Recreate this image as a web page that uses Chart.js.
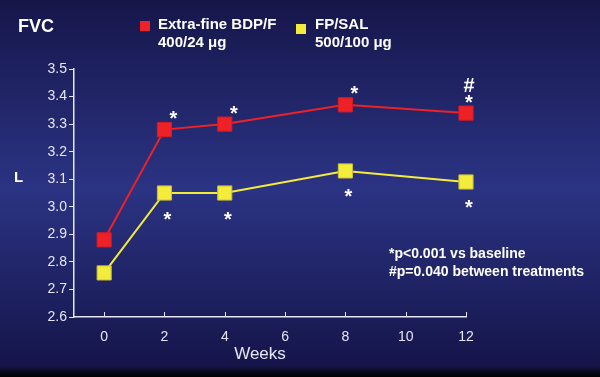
<!DOCTYPE html>
<html>
<head>
<meta charset="utf-8">
<script src="https://cdn.jsdelivr.net/npm/chart.js@4.4.0/dist/chart.umd.min.js"></script>
<style>
  html, body { margin: 0; padding: 0; background: #000; }
  #wrap { width: 600px; height: 377px; }
</style>
</head>
<body>
<div id="wrap"><canvas id="fvcChart"></canvas></div>
<script>
// data
var weeks = [0, 2, 4, 8, 12];
var bdpValues = [2.88, 3.28, 3.30, 3.37, 3.34];
var fpValues = [2.76, 3.05, 3.05, 3.13, 3.09];
var bdpMarks = ['', '*', '*', '*', '*'];
var bdpHash = ['', '', '', '', '#'];
var fpMarks = ['', '*', '*', '*', '*'];
var xTicks = [0, 2, 4, 6, 8, 10, 12];

var FONT = '"Liberation Sans", Arial, sans-serif';

function toXY(xs, ys) {
  return xs.map(function (x, i) { return { x: x, y: ys[i] }; });
}

var decor = {
  id: 'decor',
  beforeDraw: function (chart) {
    var c = chart.ctx;
    var g = c.createLinearGradient(0, 0, 0, 377);
    g.addColorStop(0, '#16164a');
    g.addColorStop(0.5, '#2b3383');
    g.addColorStop(0.97, '#15154a');
    g.addColorStop(0.99, '#050510');
    g.addColorStop(1, '#000000');
    c.save();
    c.fillStyle = g;
    c.fillRect(0, 0, chart.width, chart.height);
    c.restore();
  },
  afterDraw: function (chart) {
    var c = chart.ctx;
    var xs = chart.scales.x, ys = chart.scales.y;
    c.save();
    // inward tick marks on x axis
    c.strokeStyle = '#e6e6f5';
    c.lineWidth = 1;
    xTicks.forEach(function (t) {
      var px = Math.round(xs.getPixelForValue(t)) + 0.5;
      c.beginPath();
      c.moveTo(px, ys.bottom);
      c.lineTo(px, ys.bottom - 5);
      c.stroke();
    });

    c.fillStyle = '#ffffff';
    c.textBaseline = 'middle';
    // title
    c.font = 'bold 18px ' + FONT;
    c.textAlign = 'left';
    c.fillText('FVC', 18, 27);
    // legend
    c.font = 'bold 15px ' + FONT;
    c.fillStyle = '#ee2226';
    c.fillRect(140, 21, 10, 10);
    c.fillStyle = '#f3ec3a';
    c.fillRect(296, 24, 10, 10);
    c.fillStyle = '#ffffff';
    c.fillText('Extra-fine BDP/F', 158, 25);
    c.fillText('400/24 \u03bcg', 158, 43);
    c.fillText('FP/SAL', 315, 25);
    c.fillText('500/100 \u03bcg', 315, 43);
    // axis titles
    c.font = 'bold 15px ' + FONT;
    c.fillText('L', 14, 178);
    c.font = '17px ' + FONT;
    c.fillStyle = '#e6e6f5';
    c.textAlign = 'center';
    c.fillText('Weeks', 260, 354);
    // footnotes
    c.fillStyle = '#ffffff';
    c.textAlign = 'left';
    c.font = 'bold 14px ' + FONT;
    c.fillText('*p<0.001 vs baseline', 389, 254);
    c.fillText('#p=0.040 between treatments', 389, 272);
    // significance marks
    c.textAlign = 'center';
    c.font = 'bold 20px ' + FONT;
    weeks.forEach(function (w, i) {
      var px = xs.getPixelForValue(w);
      var dx = i === weeks.length - 1 ? 3 : 9;
      if (bdpMarks[i]) c.fillText(bdpMarks[i], px + dx, ys.getPixelForValue(bdpValues[i]) - 10);
      if (bdpHash[i]) c.fillText(bdpHash[i], px + 3, ys.getPixelForValue(bdpValues[i]) - 27);
      if (fpMarks[i]) c.fillText(fpMarks[i], px + 3, ys.getPixelForValue(fpValues[i]) + 27);
    });
    c.restore();
  }
};

var ctx = document.getElementById('fvcChart').getContext('2d');
var fvcChart = new Chart(ctx, {
  type: 'line',
  data: {
    datasets: [{
      label: 'Extra-fine BDP/F 400/24 \u03bcg',
      data: toXY(weeks, bdpValues),
      borderColor: '#ee2226',
      backgroundColor: '#ee2226',
      borderWidth: 2,
      pointStyle: 'rect',
      pointRadius: 10,
      pointBorderColor: '#d81c22',
      pointBorderWidth: 1,
      clip: false
    }, {
      label: 'FP/SAL 500/100 \u03bcg',
      data: toXY(weeks, fpValues),
      borderColor: '#f3ec3a',
      backgroundColor: '#f3ec3a',
      borderWidth: 2,
      pointStyle: 'rect',
      pointRadius: 10,
      pointBorderColor: '#c9c233',
      pointBorderWidth: 1,
      clip: false
    }]
  },
  options: {
    responsive: true,
    maintainAspectRatio: false,
    animation: false,
    layout: { padding: { top: 69, right: 134, left: 0, bottom: 0 } },
    plugins: {
      legend: { display: false },
      tooltip: { enabled: false }
    },
    scales: {
      x: {
        type: 'linear',
        min: -1,
        max: 12,
        afterBuildTicks: function (axis) {
          axis.ticks = xTicks.map(function (v) { return { value: v }; });
        },
        afterFit: function (axis) { axis.height = 60; },
        grid: { display: false },
        border: { color: '#e6e6f5', width: 1.5 },
        ticks: {
          color: '#e6e6f5',
          padding: 4,
          font: { family: FONT, size: 14 }
        }
      },
      y: {
        min: 2.6,
        max: 3.5,
        afterFit: function (axis) { axis.width = 74; },
        grid: { drawOnChartArea: false, color: '#e6e6f5', tickLength: 5 },
        border: { color: '#e6e6f5', width: 1.5 },
        ticks: {
          stepSize: 0.1,
          color: '#e6e6f5',
          padding: 2,
          font: { family: FONT, size: 14 },
          callback: function (v) { return v.toFixed(1); }
        }
      }
    }
  },
  plugins: [decor]
});
</script>
</body>
</html>
